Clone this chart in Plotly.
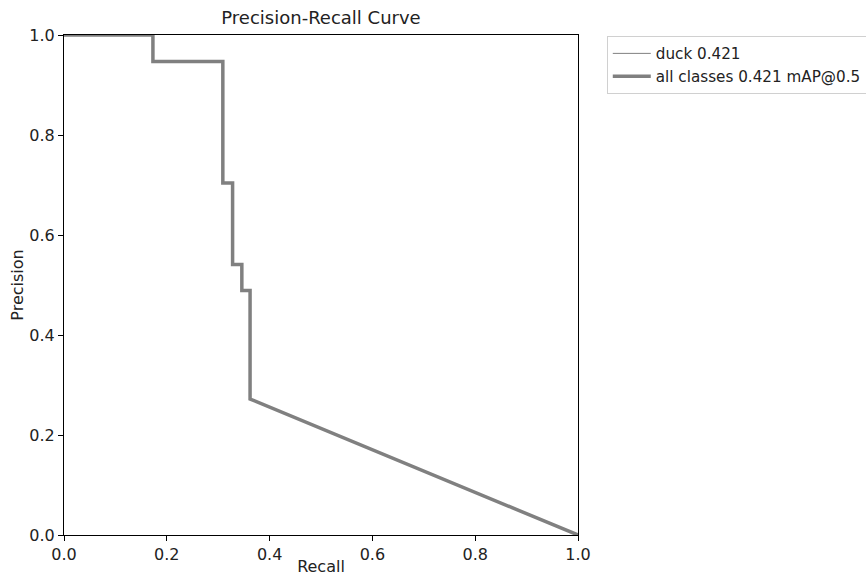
import plotly.graph_objects as go

recall = [0.0, 0.173, 0.173, 0.309, 0.309, 0.328, 0.328, 0.346, 0.346, 0.362, 0.362, 1.0]
precision = [1.0, 1.0, 0.947, 0.947, 0.704, 0.704, 0.541, 0.541, 0.489, 0.489, 0.272, 0.0]

class_name = "duck"
class_ap = 0.421
map50 = 0.421

tick_vals = [0.0, 0.2, 0.4, 0.6, 0.8, 1.0]

fig = go.Figure()
fig.add_trace(go.Scatter(x=recall, y=precision, mode="lines",
                         line=dict(color="grey", width=1),
                         name=f"{class_name} {class_ap:.3f}"))
fig.add_trace(go.Scatter(x=recall, y=precision, mode="lines",
                         line=dict(color="grey", width=3.5),
                         name=f"all classes {map50:.3f} mAP@0.5"))

axis_common = dict(range=[0, 1], tickvals=tick_vals, tickformat=".1f",
                   showline=True, linecolor="black", linewidth=1, mirror=True,
                   ticks="outside", ticklen=5, tickcolor="black",
                   showgrid=False, zeroline=False, automargin=False,
                   tickfont=dict(size=16, color="#222"))

fig.update_layout(
    width=866, height=576,
    margin=dict(l=64, r=288, t=35, b=41, autoexpand=False),
    paper_bgcolor="white", plot_bgcolor="white",
    font=dict(family="DejaVu Sans", color="#222"),
    title=dict(text="Precision-Recall Curve", x=(64 + 257) / 866, xanchor="center",
               y=1 - 18 / 576, yanchor="middle", font=dict(size=18)),
    xaxis=dict(**axis_common, title=dict(text="Recall", font=dict(size=16), standoff=2)),
    yaxis=dict(**axis_common, title=dict(text="Precision", font=dict(size=16), standoff=1)),
    legend=dict(x=1.056, y=0.998, xanchor="left", yanchor="top",
                bordercolor="#d0d0d0", borderwidth=1, bgcolor="white",
                font=dict(size=15.2), tracegroupgap=0, itemwidth=38),
    showlegend=True,
)

fig.write_html("out.html")
